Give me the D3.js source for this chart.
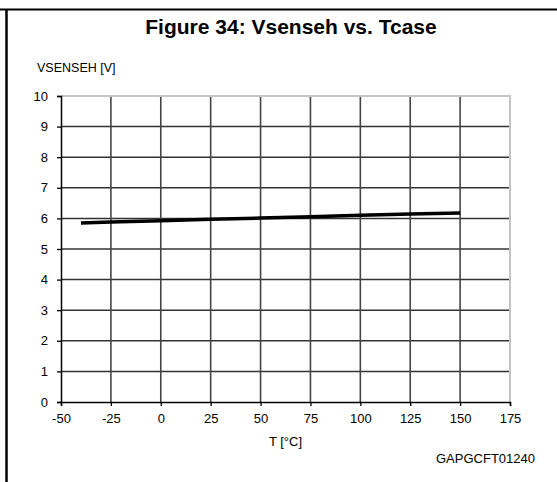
<!DOCTYPE html>
<html>
<head>
<meta charset="utf-8">
<script src="https://cdnjs.cloudflare.com/ajax/libs/d3/7.8.5/d3.min.js"></script>
<style>
  body { margin: 0; background: #fff; }
  text { font-family: Arial, "Liberation Sans", sans-serif; fill: #000; }
</style>
</head>
<body>
<div id="chart-area"></div>
<script>
// data
const temps = [-40, -25, 0, 25, 50, 75, 100, 125, 150];
const vsense = [5.85, 5.88, 5.92, 5.97, 6.01, 6.05, 6.10, 6.14, 6.18];
const xTicks = [-50, -25, 0, 25, 50, 75, 100, 125, 150, 175];
const yTicks = [0, 1, 2, 3, 4, 5, 6, 7, 8, 9, 10];

const W = 557, H = 482;
const margin = { left: 61, right: 47, top: 96, bottom: 80 };

const svg = d3.select('#chart-area').append('svg')
  .attr('width', W)
  .attr('height', H);

// frame lines of the document cell
svg.append('line')
  .attr('x1', 0).attr('x2', W)
  .attr('y1', 9.5).attr('y2', 9.5)
  .attr('stroke', '#000').attr('stroke-width', 2);
svg.append('line')
  .attr('x1', 6.5).attr('x2', 6.5)
  .attr('y1', 9).attr('y2', H)
  .attr('stroke', '#000').attr('stroke-width', 2.5);

// title
svg.append('text')
  .attr('x', 291)
  .attr('y', 34)
  .attr('text-anchor', 'middle')
  .attr('font-size', '21px')
  .attr('font-weight', 'bold')
  .text('Figure 34: Vsenseh vs. Tcase');

const x = d3.scaleLinear()
  .domain([-50, 175])
  .range([margin.left, W - margin.right]);

const y = d3.scaleLinear()
  .domain([0, 10])
  .range([402, margin.top]);

// grid - horizontal
svg.append('g')
  .selectAll('line')
  .data(yTicks.slice(1, -1))
  .enter().append('line')
    .attr('x1', x(-50)).attr('x2', x(175))
    .attr('y1', d => y(d)).attr('y2', d => y(d))
    .attr('stroke', '#333')
    .attr('stroke-width', 1.5);

// grid - vertical
svg.append('g')
  .selectAll('line')
  .data(xTicks.slice(1, -1))
  .enter().append('line')
    .attr('x1', d => x(d)).attr('x2', d => x(d))
    .attr('y1', y(0)).attr('y2', y(10))
    .attr('stroke', '#444')
    .attr('stroke-width', 1.6);

// light plot border top & right
svg.append('path')
  .attr('d', `M${x(-50)},${y(10)}H${x(175)}V${y(0)}`)
  .attr('fill', 'none')
  .attr('stroke', '#c4c4c4')
  .attr('stroke-width', 2);

// axes
const xAxis = d3.axisBottom(x).tickValues(xTicks).tickSize(4).tickPadding(8)
  .tickFormat(d => String(d));
const yAxis = d3.axisLeft(y).tickValues(yTicks).tickSize(4).tickPadding(9)
  .tickFormat(d => String(d));

const gx = svg.append('g')
  .attr('transform', `translate(0,${y(0)})`)
  .call(xAxis);
const gy = svg.append('g')
  .attr('transform', `translate(${x(-50)},0)`)
  .call(yAxis);

[gx, gy].forEach(g => {
  g.attr('font-size', null).attr('font-family', null);
  g.select('.domain').attr('stroke', '#000').attr('stroke-width', 1.5);
  g.selectAll('.tick line').attr('stroke', '#000').attr('stroke-width', 1.3);
  g.selectAll('.tick text')
    .style('font-size', '13px')
    .attr('fill', '#000');
});

// data line
const line = d3.line()
  .x((d, i) => x(temps[i]))
  .y(d => y(d));

svg.append('path')
  .datum(vsense)
  .attr('d', line)
  .attr('fill', 'none')
  .attr('stroke', '#000')
  .attr('stroke-width', 3.5);

// labels
svg.append('text')
  .attr('x', 37)
  .attr('y', 72)
  .style('font-size', '12.5px')
  .text('VSENSEH [V]');

svg.append('text')
  .attr('x', (x(-50) + x(175)) / 2)
  .attr('y', 446)
  .attr('text-anchor', 'middle')
  .style('font-size', '13px')
  .text('T [°C]');

svg.append('text')
  .attr('x', 535)
  .attr('y', 463)
  .attr('text-anchor', 'end')
  .style('font-size', '13px')
  .text('GAPGCFT01240');
</script>
</body>
</html>
